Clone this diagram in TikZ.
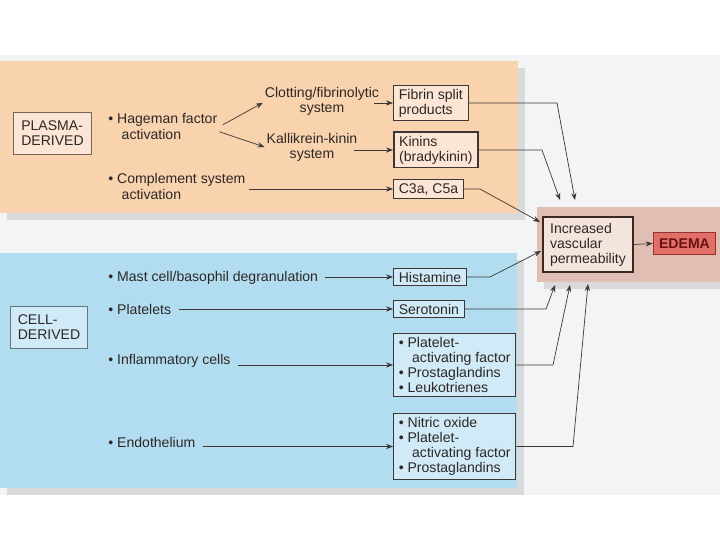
\documentclass[tikz,border=0pt]{standalone}
\usepackage{fontspec}
\setmainfont{Liberation Sans}
\usetikzlibrary{arrows.meta, positioning, calc, shadows}

\definecolor{plasmabg}{RGB}{249,210,174}
\definecolor{cellbg}{RGB}{178,221,240}
\definecolor{permbg}{RGB}{225,190,180}
\definecolor{permfill}{RGB}{243,228,220}
\definecolor{edemafill}{RGB}{226,110,104}
\definecolor{edematext}{RGB}{105,18,18}
\definecolor{plasmabox}{RGB}{252,229,212}
\definecolor{cellbox}{RGB}{208,234,247}
\definecolor{inkgray}{RGB}{45,40,38}
\definecolor{linegray}{RGB}{60,55,52}
\definecolor{pagegray}{RGB}{242,244,246}

\newcommand{\itm}{\textbullet\ }
\newcommand{\hang}{\hspace*{0.95em}}

\begin{document}
\begin{tikzpicture}[font=\fontsize{8}{8.6}\selectfont, text=inkgray,
    panel/.style={drop shadow={shadow xshift=0.14cm, shadow yshift=-0.14cm, opacity=0.22}},
    group/.style={draw, minimum width=1.55cm, minimum height=0.84cm, align=left, inner sep=3pt},
    item/.style={anchor=west, align=left, inner xsep=4pt, inner ysep=1pt},
    system/.style={align=center, inner sep=1pt},
    product/.style={draw=linegray, line width=0.6pt, anchor=west, align=left, inner xsep=3pt, inner ysep=2pt},
    signal/.style={-{Stealth[length=4pt, width=3pt]}, line width=0.4pt, draw=linegray}
]
\useasboundingbox (0,0) rectangle (14.4,-10.8);
\fill[pagegray] (0,-1.1) rectangle (14.4,-9.9);

% Panels
\path[fill=plasmabg, panel] (0,-1.22) rectangle (10.36,-4.26);
\path[fill=cellbg, panel] (0,-5.06) rectangle (10.34,-9.76);
\path[fill=permbg, panel] (10.74,-4.14) rectangle (14.4,-5.64);

% Group labels
\node[group, fill=plasmabox, draw={rgb,255:red,120;green,100;blue,90}] (plasma) at (1.05,-2.67) {PLASMA-\\DERIVED};
\node[group, fill=cellbox, draw={rgb,255:red,100;green,120;blue,130}] (cell) at (0.98,-6.55) {CELL-\\DERIVED};

% Plasma-derived sources
\node[item] (hageman) at (2.02,-2.53) {\itm Hageman factor\\\hang activation};
\node[item] (complement) at (2.02,-3.73) {\itm Complement system\\\hang activation};
\node[system] (clotting) at (6.44,-2.02) {Clotting/fibrinolytic\\system};
\node[system] (kallikrein) at (6.24,-2.94) {Kallikrein-kinin\\system};

% Cell-derived sources
\node[item] (mast) at (2.02,-5.56) {\itm Mast cell/basophil degranulation};
\node[item] (platelets) at (2.02,-6.18) {\itm Platelets};
\node[item] (inflam) at (2.02,-7.22) {\itm Inflammatory cells};
\node[item] (endo) at (2.02,-8.84) {\itm Endothelium};

% Mediators
\node[product, fill=plasmabox] (fibrin) at (7.86,-2.06) {Fibrin split\\products};
\node[product, fill=plasmabox, line width=1pt] (kinins) at (7.86,-3.0) {Kinins\\(bradykinin)};
\node[product, fill=plasmabox] (c3a) at (7.86,-3.78) {C3a, C5a};
\node[product, fill=cellbox] (histamine) at (7.86,-5.54) {Histamine};
\node[product, fill=cellbox] (serotonin) at (7.86,-6.18) {Serotonin};
\node[product, fill=cellbox] (inflamprod) at (7.86,-7.30) {\itm Platelet-\\\hang activating factor\\\itm Prostaglandins\\\itm Leukotrienes};
\node[product, fill=cellbox] (endoprod) at (7.86,-8.93) {\itm Nitric oxide\\\itm Platelet-\\\hang activating factor\\\itm Prostaglandins};

% Outcome
\node[draw={rgb,255:red,60;green,40;blue,35}, line width=0.7pt, fill=permfill, minimum width=1.8cm, minimum height=1.06cm, align=left] (perm) at (11.76,-4.89) {Increased\\vascular\\permeability};
\node[draw={rgb,255:red,150;green,50;blue,45}, line width=0.6pt, fill=edemafill, text=edematext, font=\fontsize{8}{8.6}\selectfont\bfseries, minimum width=1.14cm, minimum height=0.42cm] (edema) at (13.69,-4.87) {EDEMA};

% Sources to mediators
\draw[signal] ([xshift=-1pt, yshift=1pt]hageman.east) -- ([yshift=-1pt]clotting.west);
\draw[signal] ([xshift=-3pt, yshift=-3pt]hageman.east) -- (kallikrein.west);
\draw[signal] ([xshift=-4pt]clotting.east |- fibrin.west) -- (fibrin.west);
\draw[signal] ([xshift=-3pt]kallikrein.east |- kinins.west) -- (kinins.west);
\draw[signal] ([xshift=-2pt]complement.east |- c3a.west) -- (c3a.west);
\draw[signal] (mast.east |- histamine.west) -- (histamine.west);
\draw[signal] (platelets.east |- serotonin.west) -- (serotonin.west);
\draw[signal] (inflam.east |- inflamprod.west) -- (inflamprod.west);
\draw[signal] (endo.east |- endoprod.west) -- (endoprod.west);

% Mediators to permeability
\coordinate (fibrinbend) at (11.14,-2.06);   \coordinate (fibrintip) at (11.5,-4.0);
\coordinate (kininsbend) at (10.84,-3.0);    \coordinate (kininstip) at (11.2,-4.0);
\coordinate (c3abend) at (9.6,-3.78);        \coordinate (c3atip) at (10.8,-4.44);
\coordinate (histbend) at (9.8,-5.54);       \coordinate (histtip) at (10.82,-5.02);
\coordinate (serobend) at (10.92,-6.18);     \coordinate (serotip) at (11.1,-5.7);
\coordinate (inflambend) at (11.06,-7.32);   \coordinate (inflamtip) at (11.4,-5.7);
\coordinate (endobend) at (11.46,-8.94);     \coordinate (endotip) at (11.76,-5.68);

\draw[signal] (fibrin.east) -- (fibrin.east -| fibrinbend) -- (fibrintip);
\draw[signal] (kinins.east) -- (kinins.east -| kininsbend) -- (kininstip);
\draw[signal] (c3a.east) -- (c3a.east -| c3abend) -- (c3atip);
\draw[signal] (histamine.east) -- (histamine.east -| histbend) -- (histtip);
\draw[signal] (serotonin.east) -- (serotonin.east -| serobend) -- (serotip);
\draw[signal] (inflamprod.east) -- (inflamprod.east -| inflambend) -- (inflamtip);
\draw[signal] (endoprod.east) -- (endoprod.east -| endobend) -- (endotip);

% Permeability to edema
\draw[signal] (perm.east) -- (edema.west);

\end{tikzpicture}
\end{document}
